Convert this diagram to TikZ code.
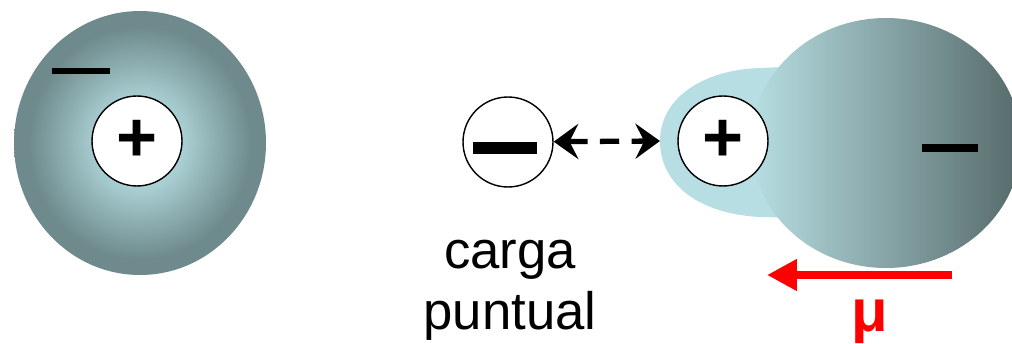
\documentclass[tikz,border=0pt]{standalone}
\usepackage{fontspec}
\setmainfont{Liberation Sans}
\usetikzlibrary{arrows.meta}
\definecolor{cloudlight}{RGB}{172,210,213}
\definecolor{clouddark}{RGB}{110,138,140}
\definecolor{lobelight}{RGB}{183,222,226}
\definecolor{lobedark}{RGB}{86,106,106}
\definecolor{dipred}{RGB}{255,0,0}
\pgfdeclareradialshading{cloud}{\pgfpoint{0bp}{0bp}}{color(0bp)=(cloudlight); color(8bp)=(cloudlight); color(22bp)=(clouddark); color(25bp)=(clouddark); color(50bp)=(clouddark)}
\tikzset{
  ion/.style={circle, draw, line width=0.8pt, fill=white, minimum size=1.8cm, inner sep=0pt,
    font=\fontsize{40}{40}\selectfont\bfseries},
  label/.style={font=\fontsize{30}{35}\selectfont, align=center},
  dip/.style={line width=4.5pt, dipred, -{Triangle[length=17pt,width=17pt]}},
}
\begin{document}
\begin{tikzpicture}[x=0.02cm, y=-0.02cm]
  \useasboundingbox (0,0) rectangle (1012,344);
  \shade [shading=cloud] (140,143) ellipse [x radius=126, y radius=132];
  \node [ion] (core) at (137,141) {+};
  \draw [line width=3.4pt] (52,71) -- (110,71);
  \node [ion] (neg) at (508,142) {};
  \draw [line width=6.8pt] (473,148) -- (537,148);
  \fill [lobelight] (810,66) -- (760,68) .. controls (700,70) and (660,100) .. (660,141)
    .. controls (660,185) and (700,214) .. (760,217) -- (810,218) -- cycle;
  \shade [left color=lobelight, right color=lobedark] (886,143) ellipse [x radius=135, y radius=125];
  \coordinate (tip) at (660,141);
  \node [ion] (pos) at (723,141) {+};
  \draw [line width=5pt] (922,148) -- (978,148);
  \draw [line width=3pt, dash pattern=on 11pt off 7pt,
    {Stealth[length=14pt,width=20pt,inset=5pt]}-{Stealth[length=14pt,width=20pt,inset=5pt]}] (neg) -- (tip);
  \node [label, anchor=base] (point) at (510,330) {carga\\puntual};
  \coordinate (mutail) at (952,275);
  \coordinate (muhead) at (767,275);
  \draw [dip] (mutail) -- (muhead);
  \node [font=\fontsize{34}{34}\selectfont\bfseries, text=dipred, anchor=base] (mu) at (870,332) {μ};
\end{tikzpicture}
\end{document}
